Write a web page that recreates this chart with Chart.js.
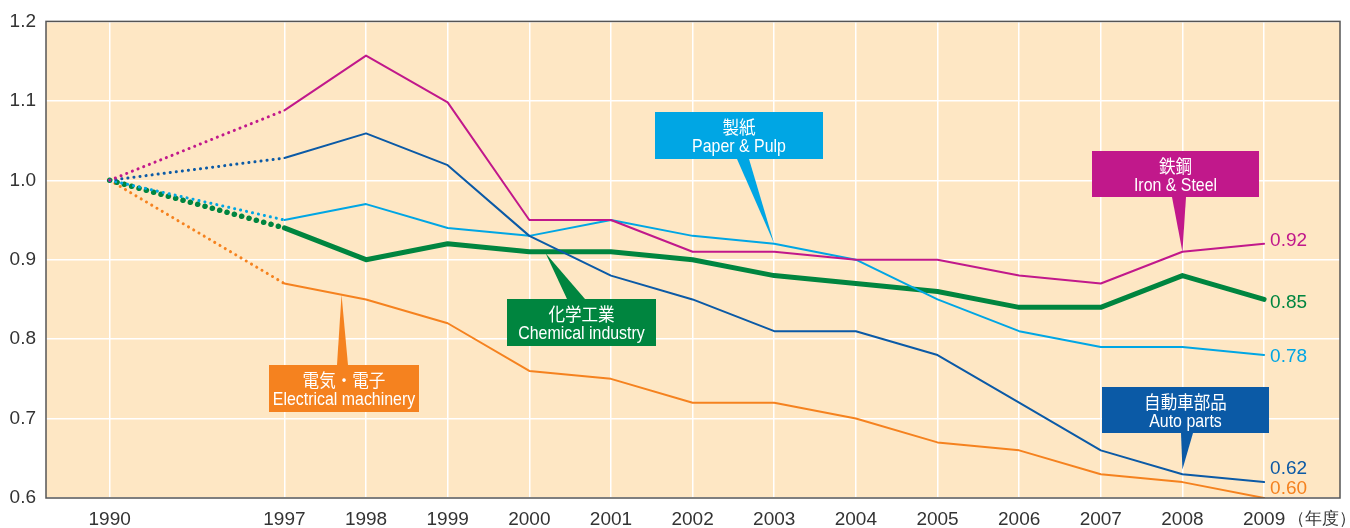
<!DOCTYPE html>
<html>
<head>
<meta charset="utf-8">
<script src="https://cdn.jsdelivr.net/npm/chart.js@4/dist/chart.umd.min.js"></script>
<style>
  body { margin: 0; background: #fff; }
  #wrap { width: 1350px; height: 528px; }
</style>
</head>
<body>
<div id="wrap"><canvas id="lineChart" width="1350" height="528"></canvas></div>
<script>
// Years (fiscal) and index values, 1990 = 1.0
const years = [1990, 1997, 1998, 1999, 2000, 2001, 2002, 2003, 2004, 2005, 2006, 2007, 2008, 2009];
const ironSteel  = [1.0, 1.088, 1.157, 1.098, 0.95, 0.95, 0.91, 0.91, 0.90, 0.90, 0.88, 0.87, 0.91, 0.92];
const autoParts  = [1.0, 1.028, 1.059, 1.019, 0.93, 0.88, 0.85, 0.81, 0.81, 0.78, 0.72, 0.66, 0.63, 0.62];
const paperPulp  = [1.0, 0.95, 0.97, 0.94, 0.93, 0.95, 0.93, 0.92, 0.90, 0.85, 0.81, 0.79, 0.79, 0.78];
const chemical   = [1.0, 0.94, 0.90, 0.92, 0.91, 0.91, 0.90, 0.88, 0.87, 0.86, 0.84, 0.84, 0.88, 0.85];
const electrical = [1.0, 0.87, 0.85, 0.82, 0.76, 0.75, 0.72, 0.72, 0.70, 0.67, 0.66, 0.63, 0.62, 0.60];
const endLabels  = ['0.92', '0.62', '0.78', '0.85', '0.60'];
const yTicks = [0.6, 0.7, 0.8, 0.9, 1.0, 1.1, 1.2];

// 1990 sits a little more than two slots left of 1997 on the axis
const xPos = y => (y === 1990 ? 1994.86 : y);
const pts = arr => arr.map((v, i) => ({ x: xPos(years[i]), y: v }));

const C = {
  iron: '#c1188b',
  auto: '#0b5aa6',
  paper: '#00a6e4',
  chem: '#00853f',
  elec: '#f5821f'
};

const FONT = '"Liberation Sans", Arial, sans-serif';

function mkSet(label, arr, color, width, dotWidth, dash) {
  return {
    label: label,
    data: pts(arr),
    borderColor: color,
    borderWidth: width,
    pointRadius: 0,
    tension: 0,
    borderCapStyle: 'round',
    borderJoinStyle: 'round',
    segment: {
      borderDash: ctx => ctx.p0DataIndex === 0 ? dash : undefined,
      borderWidth: ctx => ctx.p0DataIndex === 0 ? dotWidth : undefined
    }
  };
}

const callouts = [
  { jp: '製紙', en: 'Paper & Pulp', color: C.paper, box: [655, 112, 823, 159], base: [737, 749], tip: [2003, 0.92] },
  { jp: '鉄鋼', en: 'Iron & Steel', color: C.iron, box: [1092, 151, 1259, 197], base: [1172, 1186], tip: [2008, 0.91] },
  { jp: '化学工業', en: 'Chemical industry', color: C.chem, box: [507, 299, 656, 346], base: [567, 585], tip: [2000.2, 0.908] },
  { jp: '電気・電子', en: 'Electrical machinery', color: C.elec, box: [269, 365, 419, 412], base: [337, 348], tip: [1997.7, 0.856] },
  { jp: '自動車部品', en: 'Auto parts', color: C.auto, box: [1102, 387, 1269, 433], base: [1181, 1193], tip: [2008, 0.636] }
];

// narrow text: draw squeezed horizontally
function narrowText(c, txt, cx, cy, font, sx) {
  c.save();
  c.translate(cx, cy);
  c.scale(sx, 1);
  c.font = font;
  c.fillText(txt, 0, 0);
  c.restore();
}

const chartDeco = {
  id: 'chartDeco',
  beforeDraw(chart) {
    const a = chart.chartArea, c = chart.ctx;
    c.save();
    c.fillStyle = '#fee7c4';
    c.fillRect(a.left, a.top, a.right - a.left, a.bottom - a.top);
    c.restore();
  },
  afterDraw(chart) {
    const a = chart.chartArea, c = chart.ctx;
    const xs = chart.scales.x, ys = chart.scales.y;
    c.save();
    // frame
    c.strokeStyle = '#555';
    c.lineWidth = 1.5;
    c.strokeRect(a.left, a.top, a.right - a.left, a.bottom - a.top);

    // end-of-line values
    c.font = '19px ' + FONT;
    c.textBaseline = 'middle';
    c.textAlign = 'left';
    const sets = chart.data.datasets;
    const nudge = [-3, -13, 2, 3, -9];
    sets.forEach((ds, i) => {
      const p = ds.data[ds.data.length - 1];
      c.fillStyle = ds.borderColor;
      c.fillText(endLabels[i], xs.getPixelForValue(p.x) + 6, ys.getPixelForValue(p.y) + nudge[i]);
    });

    // year unit
    c.fillStyle = '#333';
    c.font = '17px ' + FONT;
    c.fillText('（年度）', 1288, 519);

    // callout boxes
    callouts.forEach(o => {
      const [x1, y1, x2, y2] = o.box;
      const tx = xs.getPixelForValue(o.tip[0]);
      const ty = ys.getPixelForValue(o.tip[1]);
      const by = ty > y2 ? y2 : y1;
      c.fillStyle = o.color;
      c.fillRect(x1, y1, x2 - x1, y2 - y1);
      c.beginPath();
      c.moveTo(o.base[0], by);
      c.lineTo(tx, ty);
      c.lineTo(o.base[1], by);
      c.closePath();
      c.fill();
      c.fillStyle = '#fff';
      c.textAlign = 'center';
      const cx = (x1 + x2) / 2;
      narrowText(c, o.jp, cx, y1 + 15, '18px "Noto Sans CJK JP", sans-serif', 0.92);
      narrowText(c, o.en, cx, y1 + 35, '18.5px ' + FONT, 0.86);
    });
    c.restore();
  }
};

new Chart(document.getElementById('lineChart'), {
  type: 'line',
  data: {
    datasets: [
      mkSet('Iron & Steel', ironSteel, C.iron, 2, 3, [0.1, 6]),
      mkSet('Auto parts', autoParts, C.auto, 2, 3, [0.1, 6]),
      mkSet('Paper & Pulp', paperPulp, C.paper, 2, 3, [0.1, 6]),
      mkSet('Chemical industry', chemical, C.chem, 5, 5.5, [0.1, 7.5]),
      mkSet('Electrical machinery', electrical, C.elec, 2, 3, [0.1, 6])
    ]
  },
  options: {
    responsive: false,
    animation: false,
    layout: { padding: { top: 17, right: 10, left: 0, bottom: 0 } },
    plugins: {
      legend: { display: false },
      tooltip: { enabled: false }
    },
    scales: {
      x: {
        type: 'linear',
        min: 1994.08,
        max: 2009.93,
        afterBuildTicks: s => { s.ticks = years.map(y => ({ value: xPos(y) })); },
        afterFit: s => { s.height = 30; },
        grid: { color: '#ffffff', lineWidth: 1.5, drawTicks: false },
        border: { display: false },
        ticks: {
          color: '#333',
          font: { family: FONT, size: 19 },
          padding: 10,
          maxRotation: 0,
          autoSkip: false,
          callback: (v, i) => String(years[i])
        }
      },
      y: {
        min: 0.6,
        max: 1.2,
        afterBuildTicks: s => { s.ticks = yTicks.map(v => ({ value: v })); },
        afterFit: s => { s.width = 46; },
        grid: { color: '#ffffff', lineWidth: 1.5, drawTicks: false },
        border: { display: false },
        ticks: {
          color: '#333',
          font: { family: FONT, size: 19 },
          padding: 10,
          callback: v => v.toFixed(1)
        }
      }
    }
  },
  plugins: [chartDeco]
});
</script>
</body>
</html>
